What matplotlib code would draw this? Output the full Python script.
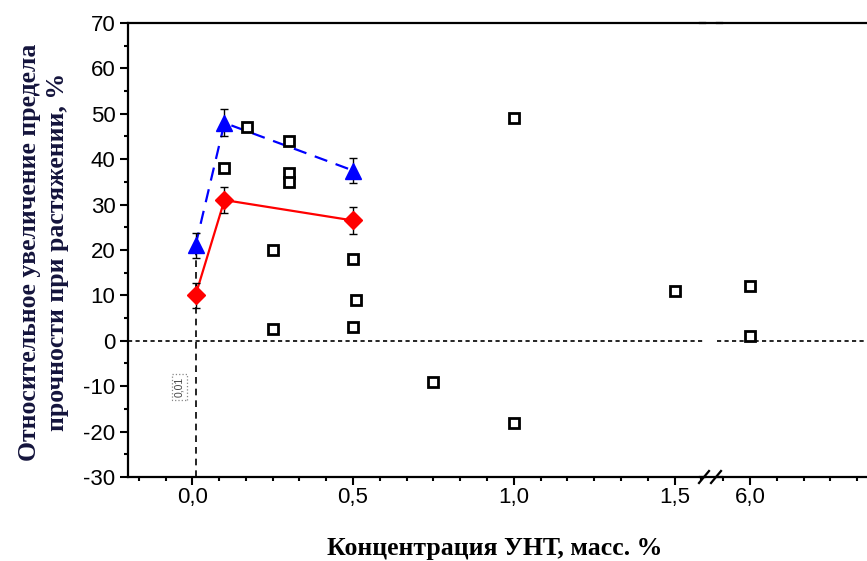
import matplotlib
matplotlib.use("Agg")
import matplotlib.pyplot as plt
from matplotlib.ticker import MultipleLocator, FixedLocator
from matplotlib.lines import Line2D

# mean values with error bars
x_mean = [0.01, 0.1, 0.5]
blue_y = [21, 48, 37.5]
blue_err = [2.7, 3.0, 2.7]
red_y = [10, 31, 26.5]
red_err = [2.8, 2.8, 3.0]

# literature points (open squares)
sq_x = [0.1, 0.17, 0.3, 0.3, 0.3, 0.25, 0.25, 0.5, 0.51, 0.5, 1.0, 0.75, 1.0, 1.5, 6.0, 6.0]
sq_y = [38, 47, 44, 37, 35, 20, 2.5, 18, 9, 3, 49, -9, -18, 11, 12, 1]

x_ticks_left = [0.0, 0.5, 1.0, 1.5]
x_ticks_right = [6.0]
y_ticks = [-30, -20, -10, 0, 10, 20, 30, 40, 50, 60, 70]

serif = "Liberation Serif"
sans = "Liberation Sans"

fig = plt.figure(figsize=(8.67, 5.61), dpi=100, facecolor="white")
W, H = 867, 561
bot = 1 - 477 / H
top = 1 - 23 / H
ax1 = fig.add_axes([128 / W, bot, (705 - 128) / W, top - bot])
ax2 = fig.add_axes([717 / W, bot, (870 - 717) / W, top - bot], sharey=ax1)

lw_ax = 1.6
for ax in (ax1, ax2):
    ax.set_ylim(-30, 70)
    ax.axhline(0, color="black", lw=1.2, ls=(0, (2.5, 2)), zorder=1)
    ax.plot(sq_x, sq_y, ls="none", marker="s", ms=7.5, mfc="white", mec="black",
            mew=2, zorder=3, clip_on=False)
    for s in ax.spines.values():
        s.set_linewidth(lw_ax)
    ax.spines["right"].set_visible(False)
    ax.xaxis.set_minor_locator(MultipleLocator(0.5 / 6))
    ax.tick_params(which="major", direction="out", length=6, width=1.5,
                   labelsize=16, top=False, right=False)
    ax.tick_params(axis="x", which="major", pad=1.5)
    ax.tick_params(which="minor", direction="out", length=3, width=1.5,
                   top=False, right=False)

ax1.set_xlim(-0.2, (705 - 192) / 321.7)
ax2.set_xlim(6 - 33 / 321.7, 6 + 120 / 321.7)
ax2.spines["left"].set_visible(False)
ax2.tick_params(axis="y", which="both", left=False, labelleft=False)

ax1.xaxis.set_major_locator(FixedLocator(x_ticks_left))
ax1.set_xticklabels([f"{v:.1f}".replace(".", ",") for v in x_ticks_left], family=sans)
ax2.xaxis.set_major_locator(FixedLocator(x_ticks_right))
ax2.set_xticklabels([f"{v:.1f}".replace(".", ",") for v in x_ticks_right], family=sans)
ax1.yaxis.set_major_locator(FixedLocator(y_ticks))
ax1.yaxis.set_minor_locator(MultipleLocator(5))
ax1.set_yticklabels([str(v) for v in y_ticks], family=sans)
ax1.tick_params(axis="y", which="major", pad=3)

# vertical dashed guide at 0.01
ax1.vlines(x_mean[0], -30, blue_y[0], colors="black", lw=1.2, ls=(0, (4, 3)), zorder=1)
ax1.text(-0.04, -10.2, "0,01", rotation=90, fontsize=7.5, color="#444444",
         ha="center", va="center", family=sans,
         bbox=dict(boxstyle="square,pad=0.25", fc="white", ec="#888888", ls=":", lw=0.9))

ax1.plot(x_mean, blue_y, color="#0000ff", lw=1.6, ls=(0, (6, 4)), zorder=2)
ax1.errorbar(x_mean, blue_y, yerr=blue_err, fmt="^", ms=11, color="#0000ff",
             ecolor="black", elinewidth=1, capsize=3, capthick=1, zorder=4)
ax1.plot(x_mean, red_y, color="#ff0000", lw=1.6, zorder=2)
ax1.errorbar(x_mean, red_y, yerr=red_err, fmt="D", ms=9.5, color="#ff0000",
             ecolor="black", elinewidth=1, capsize=3, capthick=1, zorder=4)

# bridge top and bottom lines over the break
fig.add_artist(Line2D([700 / W, 722 / W], [top, top], color="black", lw=lw_ax))
fig.add_artist(Line2D([700 / W, 722 / W], [bot, bot], color="black", lw=lw_ax))
# break marks
for xc in (704, 716):
    fig.add_artist(Line2D([(xc - 5) / W, (xc + 5) / W], [bot - 6 / H, bot + 6 / H],
                          color="black", lw=1.6))

fig.text(30 / W, 1 - 252 / H, "Относительное увеличение предела", rotation=90,
         family=serif, fontweight="bold", fontsize=18.5, color="#14143c",
         ha="center", va="center")
fig.text(58 / W, 1 - 252 / H, "прочности при растяжении, %", rotation=90,
         family=serif, fontweight="bold", fontsize=18.5, color="#14143c",
         ha="center", va="center")
fig.text(495 / W, 1 - 548 / H, "Концентрация УНТ, масс. %", family=serif,
         fontweight="bold", fontsize=18.5, ha="center", va="center", color="black")

fig.savefig("out.png", dpi=100, facecolor="white")
